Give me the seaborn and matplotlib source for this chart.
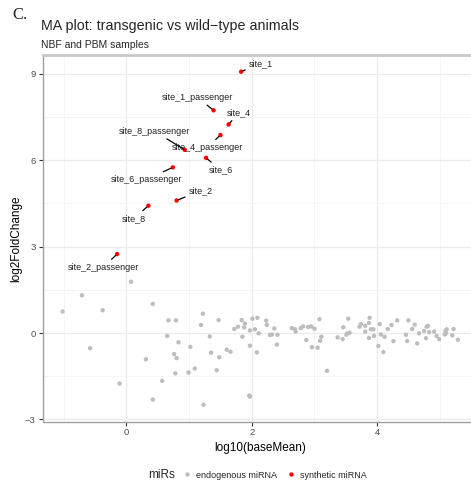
import matplotlib
matplotlib.use("Agg")
import matplotlib.pyplot as plt
import seaborn as sns
import pandas as pd
import numpy as np

# ---- data ----
site_names = ["site_1", "site_1_passenger", "site_4", "site_4_passenger",
              "site_8_passenger", "site_6", "site_6_passenger", "site_2",
              "site_8", "site_2_passenger"]
site_x = [1.83, 1.39, 1.63, 1.50, 0.93, 1.27, 0.74, 0.80, 0.35, -0.15]
site_y = [9.07, 7.73, 7.24, 6.87, 6.36, 6.08, 5.75, 4.60, 4.42, 2.74]

endo_x = [0.075, -0.71, -1.02, -0.38, -0.58, 0.31, -0.11,
          0.42, 0.67, 0.79, 1.22, 1.19, 1.47, 0.65, 0.83, 1.33, 1.02, 0.76, 0.80,
          1.35, 1.48, 1.60, 1.66, 1.09, 0.78, 0.99, 1.44, 0.57, 0.42, 1.23, 1.96, 1.97,
          1.72, 1.78, 1.84, 1.89, 1.88, 1.85, 1.97, 2.01, 2.05, 2.09, 2.11, 1.97, 2.08,
          2.23, 2.24, 2.29, 2.32, 2.36, 2.41, 2.40, 2.64, 2.69, 2.70, 2.78, 2.82, 2.87,
          2.90, 2.95, 2.96, 3.00, 3.05, 3.08, 3.09, 3.11, 3.20, 3.37, 3.45, 3.46, 3.52,
          3.54, 3.56, 3.51, 3.72, 3.74, 3.81, 3.81, 3.87, 3.88, 3.87, 3.90, 3.94, 3.95,
          4.02, 4.04, 4.06, 4.10, 4.12, 4.17, 4.23, 4.26, 4.32, 4.46, 4.48, 4.50, 4.56,
          4.60, 4.64, 4.67, 4.75, 4.78, 4.79, 4.81, 4.83, 4.91, 4.95, 4.99, 5.08, 5.09,
          5.11, 5.10, 5.20, 5.22, 5.29]
endo_y = [1.78, 1.31, 0.75, 0.79, -0.53, -0.91, -1.75,
          1.01, 0.44, 0.44, 0.67, 0.28, 0.45, -0.10, -0.32, -0.12, -0.48, -0.73, -0.87,
          -0.68, -0.84, -0.58, -0.65, -1.23, -1.40, -1.37, -1.29, -1.66, -2.31, -2.49, -2.17, -2.21,
          0.14, 0.22, 0.45, 0.33, 0.20, -0.13, 0.09, 0.50, 0.13, 0.53, -0.01, -0.44, -0.67,
          0.43, 0.28, -0.07, -0.05, 0.16, -0.06, -0.40, 0.17, 0.13, 0.05, 0.17, 0.23, -0.24,
          0.21, 0.23, -0.49, 0.15, -0.51, 0.48, -0.27, -0.13, -1.31, -0.15, -0.21, 0.20, -0.02,
          0.50, 0.01, -0.06, 0.22, 0.31, 0.05, 0.25, 0.35, 0.53, -0.17, 0.13, 0.13, -0.10,
          -0.45, 0.31, -0.05, -0.66, -0.13, 0.14, 0.28, -0.28, 0.44, -0.06, -0.28, 0.44, 0.14,
          0.29, -0.36, -0.01, 0.07, -0.18, 0.22, 0.25, 0.03, 0.05, -0.10, -0.21, -0.05, 0.07,
          0.13, 0.00, -0.08, 0.14, -0.23]

group_labels = ["endogenous miRNA", "synthetic miRNA"]
x_ticks = [0, 2, 4]
y_ticks = [-3, 0, 3, 6, 9]

# label offsets (data units) for the repelled text labels
label_dx = [0.31, -0.26, 0.16, -0.21, -0.49, 0.23, -0.42, 0.38, -0.23, -0.22]
label_dy = [0.29, 0.45, 0.40, -0.42, 0.65, -0.42, -0.42, 0.34, -0.44, -0.45]

df = pd.DataFrame({
    "log10(baseMean)": endo_x + site_x,
    "log2FoldChange": endo_y + site_y,
    "miRs": [group_labels[0]] * len(endo_x) + [group_labels[1]] * len(site_x),
})

# ---- figure ----
sns.set_theme(style="white")
plt.rcParams["font.family"] = ["Liberation Sans", "DejaVu Sans"]

W, H = 471, 487
fig = plt.figure(figsize=(W / 100, H / 100), dpi=100)
ax_left, ax_right, ax_top, ax_bot = 42.5, 478, 55, 421.5
ax = fig.add_axes([ax_left / W, 1 - ax_bot / H, (ax_right - ax_left) / W, (ax_bot - ax_top) / H])

sns.scatterplot(data=df, x="log10(baseMean)", y="log2FoldChange", hue="miRs",
                palette={group_labels[0]: "#bdbdbd", group_labels[1]: "#ff0000"},
                s=10, linewidth=0, ax=ax, zorder=3)

ax.set_xlim(-1.34, 5.61)
ax.set_ylim(-3.07, 9.65)
ax.set_xticks(x_ticks)
ax.set_yticks(y_ticks)
ax.set_yticklabels(["\u22123", "0", "3", "6", "9"])
ax.set_xticks([-1, 1, 3, 5], minor=True)
ax.set_yticks([-1.5, 1.5, 4.5, 7.5], minor=True)
ax.grid(True, which="major", color="#ebebeb", linewidth=0.9, zorder=0)
ax.grid(True, which="minor", color="#f4f4f4", linewidth=0.6, zorder=0)
ax.set_axisbelow(True)
ax.tick_params(axis="both", which="major", length=3, width=0.8, color="#333333",
               labelsize=6.8, labelcolor="#4d4d4d", pad=2, bottom=True, left=True)
ax.tick_params(axis="both", which="minor", length=0)
for side, sp in ax.spines.items():
    sp.set_color("#a0a0a0")
    sp.set_linewidth(1.0)
ax.spines["right"].set_visible(False)
ax.spines["top"].set_color("#c8c8c8")
ax.spines["top"].set_linewidth(2.0)

ax.set_xlabel("log10(baseMean)", fontsize=8.5, color="black", labelpad=3)
ax.set_ylabel("log2FoldChange", fontsize=8.5, color="black", labelpad=2)

# labels with connector segments
for name, px, py, dx, dy in zip(site_names, site_x, site_y, label_dx, label_dy):
    ax.annotate(name, xy=(px, py), xytext=(px + dx, py + dy),
                ha="center", va="center", fontsize=6.5, color="#222222",
                arrowprops=dict(arrowstyle="-", color="black", lw=0.9,
                                shrinkA=0, shrinkB=1.5),
                zorder=4)

# legend at the bottom
handles, labels = ax.get_legend_handles_labels()
ax.get_legend().remove()
fig.text(148 / W, 1 - 475 / H, "miRs", fontsize=8.5, va="center", ha="left")
fig.legend(handles, labels, ncol=2, loc="center left",
           bbox_to_anchor=(177 / W, 1 - 475 / H), frameon=False,
           fontsize=6.5, handletextpad=0.2, columnspacing=0.8,
           markerscale=1.0, handlelength=1.5, borderaxespad=0)

# titles
fig.text(41 / W, 1 - 26 / H, "MA plot: transgenic vs wild\u2212type animals",
         fontsize=10.3, va="center", ha="left")
fig.text(41 / W, 1 - 45 / H, "NBF and PBM samples", fontsize=7.5, va="center", ha="left")
fig.text(12 / W, 1 - 15 / H, "C.", fontsize=12, va="center", ha="left",
         family=["Liberation Serif", "DejaVu Serif"])

fig.savefig("out.png", dpi=100)
